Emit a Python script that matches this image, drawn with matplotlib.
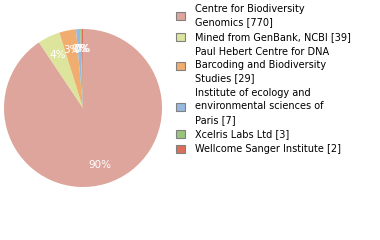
import matplotlib
matplotlib.use('Agg')
import matplotlib.pyplot as plt

labels = ['Centre for Biodiversity\nGenomics [770]',
          'Mined from GenBank, NCBI [39]',
          'Paul Hebert Centre for DNA\nBarcoding and Biodiversity\nStudies [29]',
          'Institute of ecology and\nenvironmental sciences of\nParis [7]',
          'Xcelris Labs Ltd [3]',
          'Wellcome Sanger Institute [2]']
counts = [770, 39, 29, 7, 3, 2]
colors = ['#dea59c', '#dde49c', '#f0ad6f', '#98b8dd', '#98c47c', '#dc6f5a']

fig = plt.figure(figsize=(3.8, 2.4), dpi=100)
ax = fig.add_axes([4 / 380, (240 - 108 - 79) / 240, 158 / 380, 158 / 240])
wedges, texts, autotexts = ax.pie(
    counts, colors=colors, startangle=90, counterclock=False,
    autopct=lambda p: '%d%%' % int(p), pctdistance=0.75,
    textprops=dict(color='white', fontsize=7.5))
ax.set_xlim(-1, 1)
ax.set_ylim(-1, 1)
ax.set_aspect('equal')

for w in wedges:
    w.set_edgecolor('none')

handles = [plt.Rectangle((0, 0), 1, 1, facecolor=c, edgecolor='#808080', linewidth=0.8) for c in colors]
leg = fig.legend(handles, labels, loc='upper left', bbox_to_anchor=(172 / 380, 1.0),
                 frameon=False, fontsize=7, handlelength=0.9, handleheight=0.9,
                 handletextpad=1.05, labelspacing=0.48, borderaxespad=0.0)
for t in leg.get_texts():
    t.set_linespacing(1.42)

fig.savefig('out.png', dpi=100)
